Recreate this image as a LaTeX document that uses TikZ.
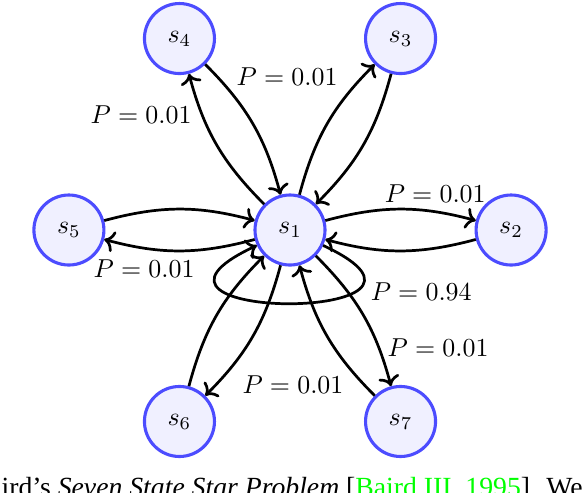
\documentclass[tikz,border=0pt]{standalone}
\usepackage{amsmath,amssymb}
\usepackage{fontspec}
\newfontfamily\capfont{LiberationSerif-Regular.ttf}
\newfontfamily\capitfont{LiberationSerif-Italic.ttf}
\usepackage{tikz}
\usetikzlibrary{arrows.meta, positioning, calc}

\begin{document}
\begin{tikzpicture}[
    state/.style={circle, draw=blue!70, fill=blue!6, line width=1.2pt, minimum size=0.95cm, inner sep=0pt},
    trans/.style={->, line width=1.05pt, bend left=15}
  ]
  \useasboundingbox (-3.935,-3.555) rectangle (3.962,3.121);
  \clip (-3.935,-3.555) rectangle (3.962,3.121);

  % States
  \node[state] (s1) at (0,0) {$s_1$};
  \node[state] (s2) at (0:3) {$s_2$};
  \node[state] (s3) at (60:3) {$s_3$};
  \node[state] (s4) at (120:3) {$s_4$};
  \node[state] (s5) at (180:3) {$s_5$};
  \node[state] (s6) at (240:3) {$s_6$};
  \node[state] (s7) at (300:3) {$s_7$};

  % Transitions
  \draw[trans] (s1) to (s2);
  \draw[trans] (s2) to (s1);
  \draw[trans] (s1) to (s3);
  \draw[trans] (s3) to (s1);
  \draw[trans] (s1) to (s4);
  \draw[trans] (s4) to (s1);
  \draw[trans] (s1) to (s5);
  \draw[trans] (s5) to (s1);
  \draw[trans] (s1) to (s6);
  \draw[trans] (s6) to (s1);
  \draw[trans] (s1) to (s7);
  \draw[trans] (s7) to (s1);
  \draw[->, line width=1.05pt] (s1) to[out=-25, in=205, looseness=7.1] (s1);

  % Probabilities
  \node (p4) at (-2.02,1.56) {$P = 0.01$};
  \node (p3) at (-0.04,2.08) {$P = 0.01$};
  \node (p2) at (1.97,0.49) {$P = 0.01$};
  \node (p5) at (-1.98,-0.52) {$P = 0.01$};
  \node (p1) at (1.78,-0.84) {$P = 0.94$};
  \node (p7) at (2.01,-1.60) {$P = 0.01$};
  \node (p6) at (0.04,-2.10) {$P = 0.01$};

  % Caption (cut off)
  \node[anchor=base west, inner sep=0pt, font=\fontsize{10.7}{12}\capfont] (cap) at (-3.92,-3.62)
    {ird’s {\capitfont Seven State Star Problem} [\textcolor{green}{Baird III, 1995}]. We};
\end{tikzpicture}
\end{document}
